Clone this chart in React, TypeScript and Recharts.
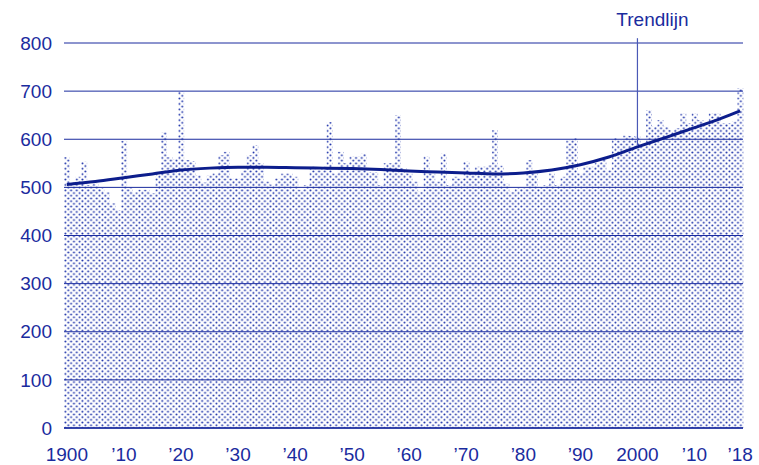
import React from 'react';
import {
  ComposedChart,
  CartesianGrid,
  XAxis,
  YAxis,
  Bar,
  Line,
  ReferenceLine
} from 'recharts';

if (typeof document !== 'undefined') document.body.style.margin = '0';

const BLUE = '#1a2b9e';
const DOT = '#1a2fa8';
const TREND = '#0c1d8c';
const FONT = '"Liberation Sans", Arial, Helvetica, sans-serif';

const firstYear = 1900;
const lastYear = 2018;
const years = Array.from({ length: lastYear - firstYear + 1 }, (_, i) => firstYear + i);

// yearly values 1900..2018
const values = [
  563, 510, 522, 553, 505, 508, 498, 490, 467, 453,
  597, 500, 490, 495, 495, 488, 529, 615, 563, 559,
  700, 557, 555, 525, 510, 525, 529, 567, 574, 519,
  519, 536, 567, 588, 550, 512, 506, 519, 529, 529,
  522, 495, 505, 543, 536, 543, 636, 529, 574, 550,
  564, 564, 570, 532, 532, 505, 550, 550, 650, 540,
  529, 512, 491, 564, 529, 512, 570, 505, 522, 519,
  553, 532, 543, 543, 546, 619, 545, 508, 491, 498,
  498, 557, 529, 501, 505, 529, 505, 522, 598, 602,
  529, 543, 543, 550, 557, 536, 602, 598, 608, 607,
  605, 585, 661, 626, 640, 626, 619, 623, 654, 633,
  654, 640, 630, 654, 654, 633, 633, 637, 706
];

// trend line read at 5-year steps
const trendYears = [1900, 1905, 1910, 1915, 1920, 1925, 1930, 1935, 1940, 1945, 1950, 1955, 1960, 1965, 1970, 1975, 1980, 1985, 1990, 1995, 2000, 2005, 2010, 2015, 2018];
const trendValues = [506, 512, 520, 528, 536, 540, 542, 542, 541, 540, 539, 537, 534, 532, 530, 528, 530, 536, 547, 563, 584, 604, 624, 645, 659];

const xTicks = [1900, 1910, 1920, 1930, 1940, 1950, 1960, 1970, 1980, 1990, 2000, 2010, 2018];
const yTicks = [0, 100, 200, 300, 400, 500, 600, 700, 800];

const data = years.map((year, i) => {
  const t = trendYears.indexOf(year);
  return { year, value: values[i], trend: t >= 0 ? trendValues[t] : null };
});

function yearLabel(y: number) {
  if (y === 1900 || y === 2000) return String(y);
  return `\u2019${String(y).slice(2)}`;
}

function TrendLabel({ viewBox }: { viewBox?: any }) {
  const x = (viewBox?.x ?? 0) + 15;
  const y = (viewBox?.y ?? 0) - 12;
  return (
    <text x={x} y={y} textAnchor="middle" fontSize={19} fontFamily={FONT} fill={BLUE}>
      Trendlijn
    </text>
  );
}

export default function App() {
  return (
    <div style={{ width: 759, height: 465 }}>
      <ComposedChart
        width={759}
        height={465}
        data={data}
        margin={{ top: 43, right: 16, left: 8, bottom: 7 }}
        barCategoryGap={0}
        barGap={0}
      >
        <defs>
          <pattern id="dots" patternUnits="userSpaceOnUse" x={64} y={0} width={5.7} height={5.4}>
            <circle cx={1.4} cy={1.35} r={1.0} fill={DOT} />
            <circle cx={4.25} cy={4.05} r={1.0} fill={DOT} />
          </pattern>
        </defs>
        <CartesianGrid vertical={false} stroke={BLUE} strokeWidth={1} />
        <XAxis
          dataKey="year"
          ticks={xTicks}
          interval={0}
          tickFormatter={yearLabel}
          axisLine={{ stroke: BLUE, strokeWidth: 1.5 }}
          tickLine={false}
          tickSize={8}
          tickMargin={12}
          height={30}
          tick={{ fill: BLUE, fontSize: 19, fontFamily: FONT }}
        />
        <YAxis
          domain={[0, 800]}
          ticks={yTicks}
          interval={0}
          axisLine={false}
          tickLine={false}
          tickSize={6}
          tickMargin={6}
          width={56}
          tick={{ fill: BLUE, fontSize: 19, fontFamily: FONT }}
        />
        <Bar dataKey="value" fill="url(#dots)" isAnimationActive={false} />
        <Line
          type="monotone"
          dataKey="trend"
          stroke={TREND}
          strokeWidth={3}
          dot={false}
          connectNulls
          isAnimationActive={false}
        />
        <ReferenceLine
          segment={[{ x: 2000, y: 586 }, { x: 2000, y: 810 }]}
          stroke="#4a59b6"
          strokeWidth={1.2}
          ifOverflow="visible"
          label={<TrendLabel />}
        />
      </ComposedChart>
    </div>
  );
}
